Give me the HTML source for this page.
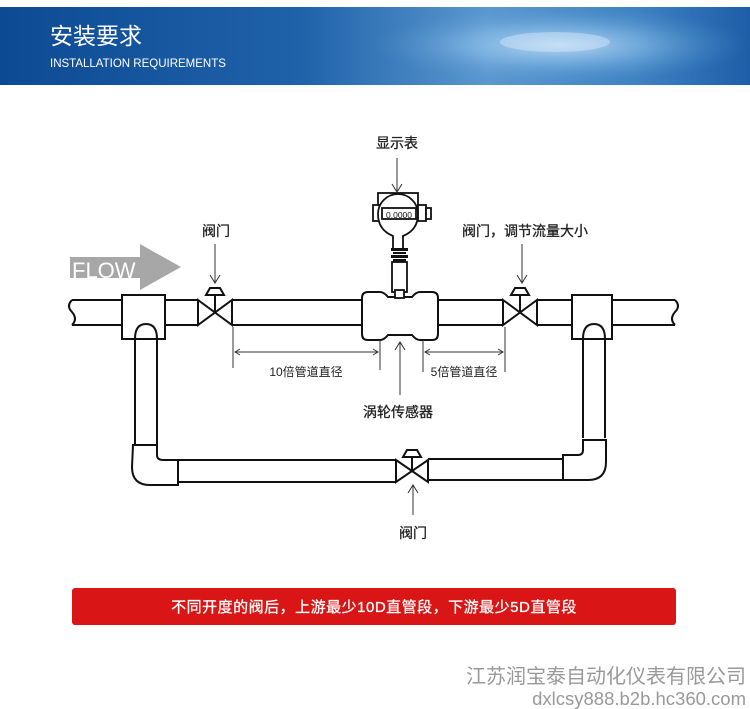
<!DOCTYPE html>
<html><head><meta charset="utf-8"><style>
body{margin:0;width:750px;height:709px;background:#fff;overflow:hidden;font-family:"Liberation Sans","Noto Sans CJK SC",sans-serif}
</style></head><body>
<svg width="750" height="709" viewBox="0 0 750 709" xmlns="http://www.w3.org/2000/svg" style="position:absolute;left:0;top:0">
<defs>
<linearGradient id="hg" x1="0" x2="1" y1="0" y2="0">
<stop offset="0" stop-color="#0d4a94"/><stop offset="0.4" stop-color="#1f62aa"/><stop offset="0.65" stop-color="#5b98cf"/><stop offset="0.85" stop-color="#3f82c2"/><stop offset="1" stop-color="#1d5ea8"/>
</linearGradient>
<radialGradient id="sw" cx="0.5" cy="0.5" r="0.5"><stop offset="0" stop-color="#d8ecfb" stop-opacity="0.8"/><stop offset="0.5" stop-color="#9fd0f5" stop-opacity="0.4"/><stop offset="1" stop-color="#5a9ad0" stop-opacity="0"/></radialGradient>
</defs>
<rect x="0" y="7" width="750" height="78" fill="url(#hg)"/>
<ellipse cx="560" cy="45" rx="190" ry="38" fill="url(#sw)"/>
<ellipse cx="555" cy="42" rx="55" ry="10" fill="#cfe6fa" opacity="0.5"/>
<text x="50" y="44" font-size="23" fill="#fff">安装要求</text>
<text x="50" y="67" font-size="11.5" fill="#fff">INSTALLATION REQUIREMENTS</text>

<g fill="none" stroke="#111" stroke-width="2">
<path d="M72 300 H122 M72 325 H122"/>
<path d="M72 300 q-6 6 0 12 q6 7 0 13" />
<rect x="122" y="295" width="43" height="44" fill="#fff"/>
<path d="M135 339 q0 -15 11 -15 q11 0 11 15"/>
<path d="M165 300 H198 M165 325 H198"/>
<path d="M135 339 V445 M157 339 V445"/>
<path d="M198 300 L232 325 V300 L198 325 Z" fill="#fff"/>
<path d="M215 312 V288"/>
<path d="M210 288 h10 l4 7 h-18 z" fill="#fff"/>
<path d="M232 300 H363 M232 325 H363"/>
<path d="M368 292 h12 q4 0 8 5 h24 q4 -5 8 -5 h12 q6 0 6 6 v36 q0 6 -6 6 h-12 q-4 0 -8 -5 h-24 q-4 5 -8 5 h-12 q-6 0 -6 -6 v-36 q0 -6 6 -6z" fill="#fff"/>
<path d="M437 300 H503 M437 325 H503"/>
<path d="M503 300 L537 325 V300 L503 325 Z" fill="#fff"/>
<path d="M520 312 V288"/>
<path d="M515 288 h10 l4 7 h-18 z" fill="#fff"/>
<path d="M537 300 H572 M537 325 H572"/>
<rect x="572" y="295" width="40" height="44" fill="#fff"/>
<path d="M583 339 q0 -15 11 -15 q11 0 11 15"/>
<path d="M612 300 H675 M612 325 H675"/>
<path d="M675 300 q6 6 0 12 q-6 7 0 13"/>
<path d="M583 339 V438 M605 339 V438"/>
<path d="M133 445 H157 V455 q0 5 6 5 H178 V485 H150 q-18 0 -18 -18 Z" fill="#fff"/>
<path d="M178 460 H396 M178 482 H396"/>
<path d="M396 460 L428 482 V460 L396 482 Z" fill="#fff"/>
<path d="M412 471 V450"/>
<path d="M407 450 h10 l4 7 h-18 z" fill="#fff"/>
<path d="M428 459 H563 M428 480 H563"/>
<path d="M583 440 H606 V462 q0 18 -18 18 H563 V455 H578 q5 0 5 -5 Z" fill="#fff"/>
</g>
<g stroke="#111" stroke-width="1.8" fill="#fff">
<rect x="378" y="193" width="40" height="20"/>
<rect x="373" y="205" width="8" height="16"/>
<rect x="418" y="205" width="8" height="16"/>
<rect x="426" y="208" width="5" height="11"/>
<path d="M393 248 V236 q-15 -6 -15 -22 a20 20 0 0 1 40 0 q0 16 -15 22 V248" />
<rect x="382" y="208" width="34" height="11"/>
<rect x="392" y="262" width="15" height="30"/>
<rect x="395" y="290" width="9" height="8"/>
</g>
<text x="399" y="218" font-size="8.5" text-anchor="middle" fill="#111">0.0000</text>
<g fill="#111"><rect x="391" y="248" width="17" height="3"/><rect x="393" y="252" width="13" height="2"/><rect x="391" y="255" width="17" height="3"/><rect x="393" y="259" width="13" height="3"/></g>
<path d="M70 257 H140 V244 L181 267 L140 290 V278 H70 Z" fill="#a7a7a7"/>
<text x="72" y="278" font-size="22" fill="#fff">FLOW</text>
<g stroke="#333" stroke-width="1" fill="none">
<path d="M397 158 V192 M392 184 L397 192 L402 184"/>
<path d="M215 244 V283 M210 275 L215 283 L220 275"/>
<path d="M522 244 V283 M517 275 L522 283 L527 275"/>
<path d="M400 395 V342 M395 350 L400 342 L405 350"/>
<path d="M413 515 V485 M408 493 L413 485 L418 493"/>
<path d="M233 327 V368 M380 340 V370 M423 340 V372 M505 327 V372"/>
<path d="M235 352 H378 M240 349 L235 352 L240 355 M373 349 L378 352 L373 355"/>
<path d="M425 352 H503 M430 349 L425 352 L430 355 M498 349 L503 352 L498 355"/>
</g>
<g font-size="14" fill="#222" text-anchor="middle" stroke="#222" stroke-width="0.3">
<text x="397" y="148">显示表</text>
<text x="216" y="236">阀门</text>
<text x="525" y="236">阀门，调节流量大小</text>
<text x="398" y="417">涡轮传感器</text>
<text x="413" y="538">阀门</text>
</g>
<g font-size="12" fill="#222" text-anchor="middle">
<text x="306" y="376">10倍管道直径</text>
<text x="464" y="376">5倍管道直径</text>
</g>
<rect x="72" y="588" width="604" height="37" rx="3" fill="#d91515"/>
<text x="374" y="612" font-size="15" fill="#fff" stroke="#fff" stroke-width="0.3" text-anchor="middle" letter-spacing="0.5">不同开度的阀后，上游最少10D直管段，下游最少5D直管段</text>
<text x="746" y="683" font-size="20" fill="#999" text-anchor="end">江苏润宝泰自动化仪表有限公司</text>
<text x="746" y="705" font-size="18.5" fill="#999" text-anchor="end">dxlcsy888.b2b.hc360.com</text>
</svg>
</body></html>
